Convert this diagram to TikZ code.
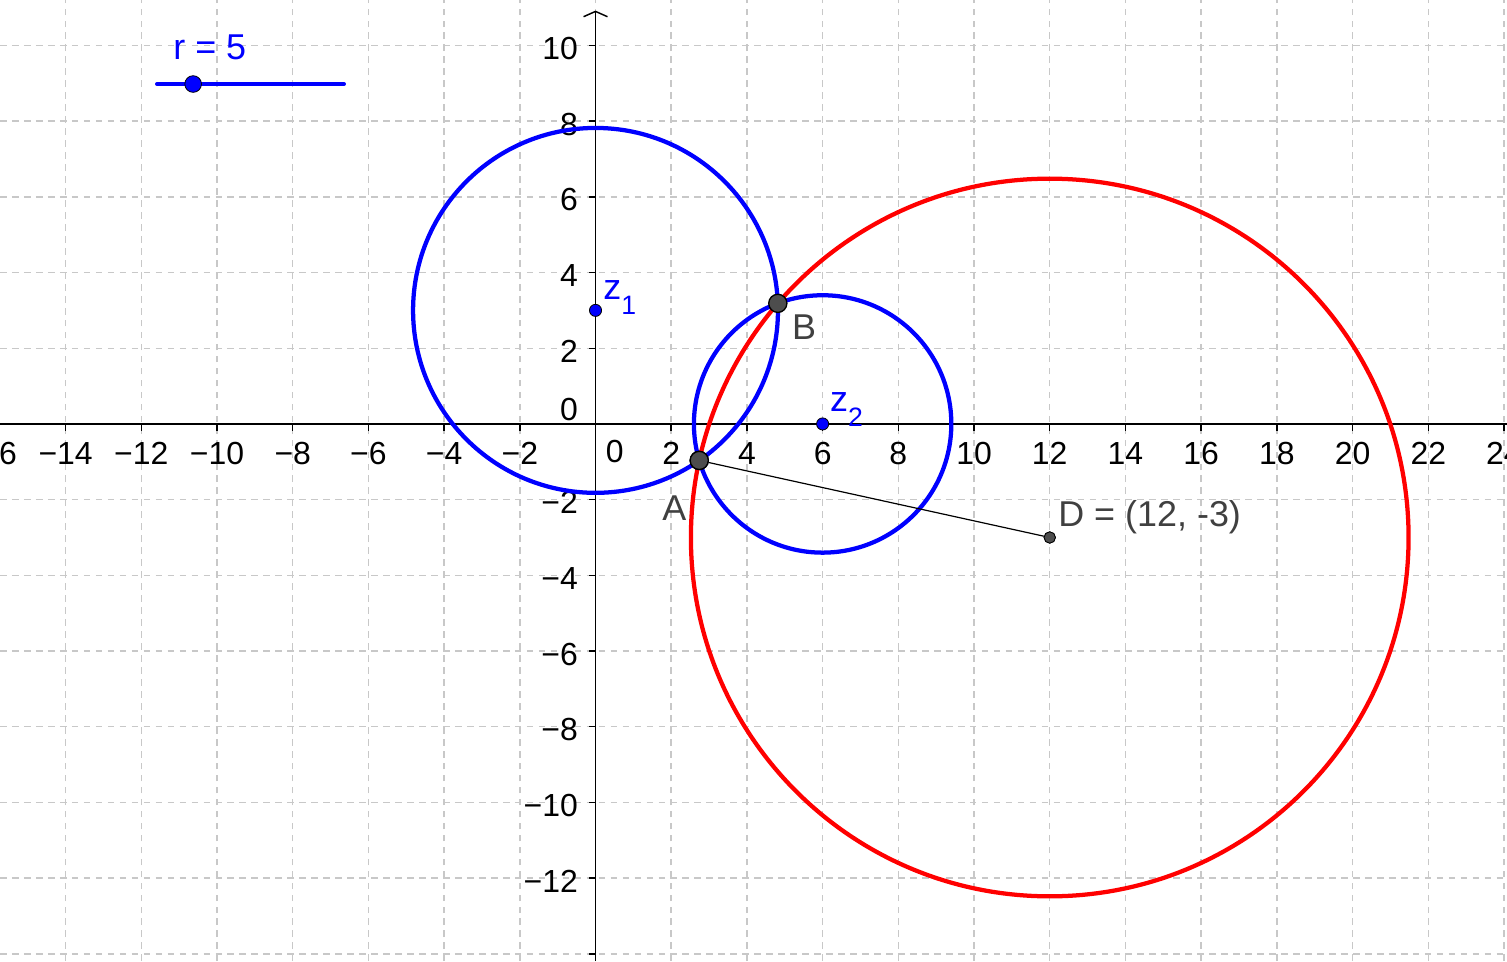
\documentclass[tikz,border=0pt]{standalone}
\usepackage{fontspec}
\setmainfont{Liberation Sans}
\usepackage{tikz}
\usetikzlibrary{arrows.meta,positioning,calc}
\usepackage{xcolor}
\definecolor{ggblue}{RGB}{0,0,255}
\definecolor{ggred}{RGB}{255,0,0}
\definecolor{gggrid}{RGB}{200,200,200}
\definecolor{ggdark}{RGB}{77,77,77}
\definecolor{gglabel}{RGB}{64,64,64}
\newcommand{\zsub}[1]{z\raisebox{-0.42em}{\fontsize{20}{21}\selectfont #1}}

\begin{document}
\begin{tikzpicture}[>=Stealth,
    gridline/.style={gggrid, line width=1.1pt, dash pattern=on 5pt off 4pt},
    axisline/.style={black, line width=1.1pt},
    ticklab/.style={font=\fontsize{24}{28}\selectfont, inner sep=0pt},
    ptlab/.style={font=\fontsize{27}{31}\selectfont, inner sep=0pt},
    bigpt/.style={circle, draw=black, fill=ggdark, line width=1pt, inner sep=0pt, minimum size=0.48cm},
    smallpt/.style={circle, draw=black, fill=ggblue, line width=0.6pt, inner sep=0pt, minimum size=0.32cm}]
    \useasboundingbox (-15.733,-14.19) rectangle (24.08,11.2);
    \clip (-15.733,-14.19) rectangle (24.08,11.2);

    % Grid
    \foreach \x in {-16,-14,...,24}
        \draw[gridline] (\x,-14.19) -- (\x,11.2);
    \foreach \y in {-14,-12,...,10}
        \draw[gridline] (-15.733,\y) -- (24.08,\y);

    % Axes
    \draw[axisline] (-15.733,0) -- (24.08,0);
    \draw[axisline, -{Straight Barb[length=4pt,width=18pt]}] (0,-14.19) -- (0,10.92);
    \foreach \x in {-16,-14,...,-2,2,4,...,24}
        \draw[axisline] (\x,0) -- (\x,-0.18);
    \foreach \y in {-14,-12,...,-2,2,4,...,10}
        \draw[axisline] (0,\y) -- (-0.18,\y);

    % Tick labels
    \foreach \x in {2,4,...,24}
        \node[ticklab, anchor=base] at (\x,-1.08) {\x};
    \foreach \x in {2,4,...,16}
        \node[ticklab, anchor=base] at (-\x,-1.08) {−\x};
    \foreach \y in {2,4,...,10}
        \node[ticklab, anchor=base east] at (-0.46,\y-0.37) {\y};
    \foreach \y in {2,4,...,12}
        \node[ticklab, anchor=base east] at (-0.46,-\y-0.37) {−\y};
    \node[ticklab, anchor=base] (xzero) at (0.51,-1.03) {0};
    \node[ticklab, anchor=base east] (yzero) at (-0.46,0.1) {0};

    % Slider r
    \coordinate (slstart) at (-11.585,8.98);
    \coordinate (slend) at (-6.645,8.98);
    \draw[ggblue, line width=3pt, line cap=round] (slstart) -- (slend);
    \node[smallpt, minimum size=0.44cm] (slpt) at (-10.63,8.98) {};
    \node[ptlab, anchor=base west, text=ggblue] (rlab) at (-11.16,9.64) {r = 5};

    % Centres and points
    \node[smallpt] (z1) at (0,3) {};
    \node[smallpt] (z2) at (6,0) {};
    \node[smallpt, fill=ggdark, minimum size=0.3cm] (D) at (12,-3) {};

    % Circles
    \draw[ggblue, line width=3.2pt] (z1) circle (4.82);
    \draw[ggblue, line width=3.2pt] (z2) circle (3.4);
    \draw[ggred, line width=3.2pt] (D) circle (9.48);

    \node[bigpt] (A) at (2.74,-0.964) {};
    \node[bigpt] (B) at (4.816,3.186) {};
    \draw[line width=0.9pt] (A) -- (D);
    \node[bigpt] at (A) {};
    \node[smallpt, fill=ggdark, minimum size=0.3cm] at (D) {};

    % Labels
    \node[ptlab, anchor=base west, text=ggblue] (z1lab) at (0.2,3.28) {\zsub{1}};
    \node[ptlab, anchor=base west, text=ggblue] (z2lab) at (6.19,0.32) {\zsub{2}};
    \node[ptlab, anchor=base west, text=gglabel] (Blab) at (5.19,2.22) {B};
    \node[ptlab, anchor=base west, text=gglabel] (Alab) at (1.76,-2.54) {A};
    \node[ptlab, anchor=base west, text=gglabel] (Dlab) at (12.22,-2.72) {D = (12, -3)};
\end{tikzpicture}
\end{document}
